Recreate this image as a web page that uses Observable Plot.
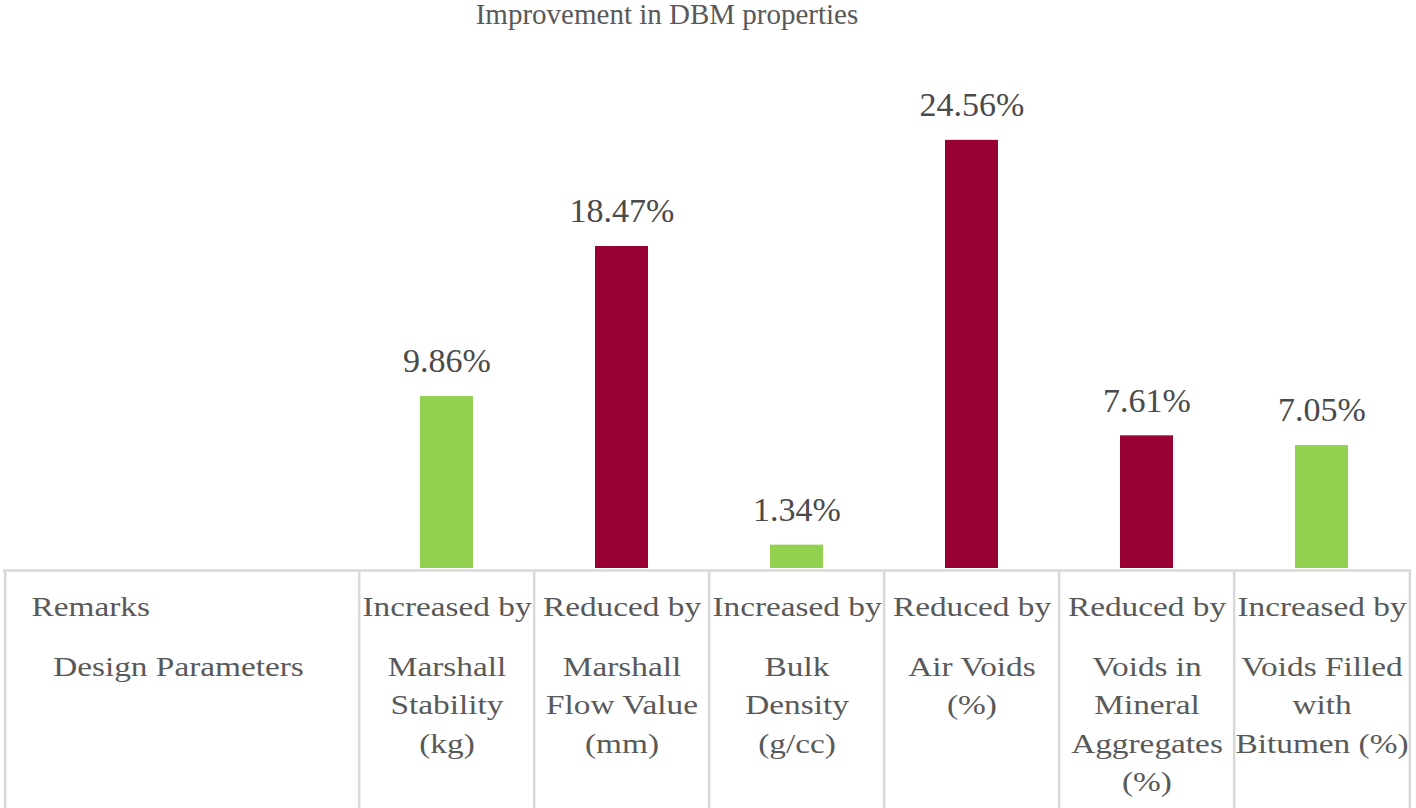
<!DOCTYPE html>
<html>
<head>
<meta charset="utf-8">
<script src="https://cdn.jsdelivr.net/npm/d3@7"></script>
<script src="https://cdn.jsdelivr.net/npm/@observablehq/plot@0.6"></script>
<style>
  html, body { margin: 0; padding: 0; background: #fff; }
  #title { height: 36px; line-height: 28px; text-align: center; padding-right: 82px; font-family: "Liberation Serif", serif; font-size: 29px; color: #595959; }
  #chart svg text { font-family: "Liberation Serif", serif; }
</style>
</head>
<body>
<div id="title">Improvement in DBM properties</div>
<div id="chart"></div>
<script>
const params = [
  "Marshall\nStability\n(kg)",
  "Marshall\nFlow Value\n(mm)",
  "Bulk\nDensity\n(g/cc)",
  "Air Voids\n(%)",
  "Voids in\nMineral\nAggregates\n(%)",
  "Voids Filled\nwith\nBitumen (%)"
];
const values = [9.86, 18.47, 1.34, 24.56, 7.61, 7.05];
const remarks = ["Increased by", "Reduced by", "Increased by", "Reduced by", "Reduced by", "Increased by"];
const rowHeaders = ["Remarks", "Design Parameters"];

const rows = params.map((p, i) => ({param: p, value: values[i], remark: remarks[i]}));

const W = 1416, H = 772, ML = 357, MR = 5, MT = 9, MB = 240;
const bw = (W - ML - MR) / params.length;
const grid = {stroke: "#d9d9d9", strokeWidth: 2.5};
const valueColor = "#4a4a4a";
const tableColor = "#595959";
const FF = "Liberation Serif";
const FS = 28;

const chart = Plot.plot({
  width: W, height: H,
  marginLeft: ML, marginRight: MR, marginTop: MT, marginBottom: MB,
  x: {domain: params, padding: 0, axis: null},
  y: {domain: [0, 30], axis: null},
  color: {domain: ["Increased by", "Reduced by"], range: ["#92d050", "#990033"]},
  style: "font-family: 'Liberation Serif', serif; font-size: 28px; background: #fff; overflow: visible;",
  marks: [
    Plot.barY(rows, {x: "param", y: "value", fill: "remark", insetLeft: 61, insetRight: 61}),
    Plot.text(rows, {x: "param", y: "value", text: d => d.value.toFixed(2) + "%", dy: -35, fontSize: 34, fontFamily: FF, fill: valueColor}),
    // table grid
    Plot.ruleY([0], {...grid, insetLeft: -(ML - 3), dy: 2}),
    Plot.ruleX(params, {...grid, dx: -bw / 2, insetBottom: -MB, insetTop: H - MB - MT + 2}),
    Plot.ruleX([params[0]], {...grid, dx: -bw / 2 - (ML - 3), insetBottom: -MB, insetTop: H - MB - MT + 2}),
    Plot.ruleX([params[params.length - 1]], {...grid, dx: bw / 2, insetBottom: -MB, insetTop: H - MB - MT + 2}),
    // table text
    Plot.text([rowHeaders[0]], {frameAnchor: "bottom-left", text: d => d, textAnchor: "start", lineAnchor: "middle", dx: -(ML - 31), dy: 39, fontSize: FS, fontFamily: FF, fill: tableColor}),
    Plot.text([rowHeaders[1]], {frameAnchor: "bottom-left", text: d => d, textAnchor: "middle", lineAnchor: "middle", dx: -(ML - 178), dy: 99, fontSize: FS, fontFamily: FF, fill: tableColor}),
    Plot.text(rows, {x: "param", frameAnchor: "bottom", text: "remark", lineAnchor: "middle", dy: 39, fontSize: FS, fontFamily: FF, fill: tableColor}),
    Plot.text(rows, {x: "param", frameAnchor: "bottom", text: "param", lineAnchor: "top", lineHeight: 1.375, dy: 80, fontSize: FS, fontFamily: FF, fill: tableColor})
  ]
});

// The reference's table text is set slightly wide: stretch it horizontally about its anchor
const textGroups = Array.from(chart.querySelectorAll("g[aria-label='text']"));
textGroups.slice(-4).forEach(g => {
  g.querySelectorAll("text").forEach(t => {
    const tr = t.getAttribute("transform") || "";
    t.setAttribute("transform", tr + " scale(1.19,1)");
  });
});
document.getElementById("chart").appendChild(chart);
</script>
</body>
</html>
